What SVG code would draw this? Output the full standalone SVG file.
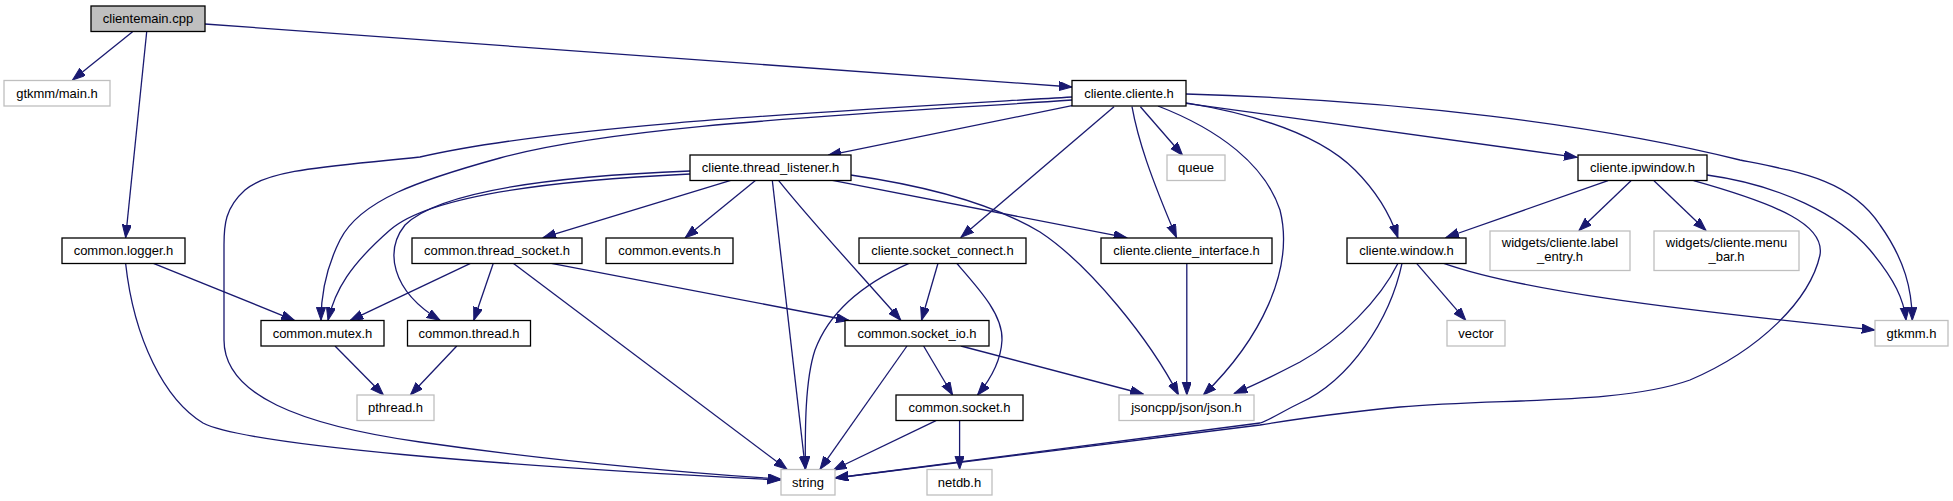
<svg xmlns="http://www.w3.org/2000/svg" width="1953" height="501" viewBox="0 0 1953 501">
<style>
.n rect{fill:#fff;stroke:#000;stroke-width:1.3}
.g rect{fill:#fff;stroke:#bfbfbf;stroke-width:1.3}
.root rect{fill:#bfbfbf;stroke:#000;stroke-width:1.3}
text{font-family:"Liberation Sans",Arial,sans-serif;font-size:13px;fill:#000;text-anchor:middle}
#edges path{fill:none;stroke:#191970;stroke-width:1.3;marker-end:url(#ah)}
</style>
<defs>
<marker id="ah" markerUnits="userSpaceOnUse" markerWidth="14" markerHeight="10" refX="13" refY="4.6" orient="auto">
<path d="M0,0 L13,4.6 L0,9.2 Z" fill="#191970" stroke="#191970" stroke-width="1"/>
</marker>
</defs>
<rect width="1953" height="501" fill="#fff"/>
<g id="edges">
<path d="M132.6,31.7 L72.5,80"/>
<path d="M146.7,31.7 L125.6,237.7"/>
<path d="M204.8,24 L1072,87"/>
<path d="M1072,97 C820,112 560,125 420,157 C340,166 270,168 245,190 C225,208 224,225 224,245 L224,340 C224,395 300,425 420,442 C560,462 700,474 780.6,479"/>
<path d="M125.6,263.3 C134,340 165,400 203,423 C245,445 500,466 780.6,480"/>
<path d="M1072,100 C850,115 620,125 500,158 C420,180 360,200 340,240 C325,270 321,300 321,320.3"/>
<path d="M690,171 C560,176 440,190 405,225 C385,250 390,290 440,320.3"/>
<path d="M690,174 C560,180 430,195 390,230 C350,265 335,290 328,320.3"/>
<path d="M1072,105.7 L828.2,155.3"/>
<path d="M1114,106.7 L961,237.3"/>
<path d="M1140.4,106.7 L1182.6,155.3"/>
<path d="M1132,106.7 C1138,140 1150,175 1176.4,237.3"/>
<path d="M1158,106 C1220,130 1265,165 1280,210 C1295,270 1260,340 1203.4,395"/>
<path d="M1184.7,102.7 C1260,115 1320,135 1355,170 C1380,195 1392,220 1397.9,237.7"/>
<path d="M1186,103.3 L1577,157.3"/>
<path d="M1186,94 C1400,100 1600,125 1740,160 C1800,172 1850,180 1880,225 C1905,260 1912,290 1912.3,320.3"/>
<path d="M1707,175 C1780,185 1840,215 1870,250 C1895,280 1904,300 1906,320.3"/>
<path d="M1693.6,180.7 C1780,205 1825,225 1820,255 C1810,300 1760,350 1690,380 C1620,405 1500,398 1400,407 C1330,414 1290,420 1260,425 L835.3,478"/>
<path d="M1398,263.3 C1380,300 1340,340 1300,362 C1275,375 1255,385 1234.4,393.3"/>
<path d="M1402,263.3 C1390,320 1350,380 1300,403 C1285,410 1270,420 1260,423 L835.3,478"/>
<path d="M1416.6,263.3 L1465.8,320.3"/>
<path d="M1443.7,263.3 C1520,290 1660,308 1874.8,330"/>
<path d="M1608,180.7 L1446,237.5"/>
<path d="M1631,180.7 L1579,230.5"/>
<path d="M1654,180.7 L1706,230.5"/>
<path d="M1186.8,263.3 L1186.8,395"/>
<path d="M730.8,180.3 L543,237.7"/>
<path d="M755.7,180.3 L685.2,237.7"/>
<path d="M772.3,180.3 L805.4,469.3"/>
<path d="M778.5,180.3 C810,220 870,285 900.8,320.3"/>
<path d="M832.4,180.3 L1126.7,237.7"/>
<path d="M850.6,175 C920,185 990,202 1040,232 C1090,265 1150,340 1178.5,395"/>
<path d="M470.5,263.3 L350.3,320.3"/>
<path d="M493.3,263.3 L473.8,320.3"/>
<path d="M513.2,263.3 L787,469.3"/>
<path d="M551.3,263.3 L849,320.5"/>
<path d="M153.4,263.3 L294.3,320.3"/>
<path d="M335,346 L383.4,395"/>
<path d="M456.8,346 L410.4,395"/>
<path d="M909,263.3 C860,285 828,315 815,350 C805,380 805,430 805.4,469.3"/>
<path d="M938,263.3 L921.5,320.3"/>
<path d="M956.7,263.3 C980,290 1003,315 1002,340 C1001,362 990,380 977.5,395"/>
<path d="M907,346 L820,469.3"/>
<path d="M923.6,346 L952.6,395"/>
<path d="M960.9,346 L1143.3,394"/>
<path d="M936,420.7 L833.3,470"/>
<path d="M959.6,420.7 L959.6,469.3"/>
</g>
<g id="n_clientemain" class="root"><rect x="91" y="6" width="114" height="25.5"/><text x="148" y="23.2">clientemain.cpp</text></g>
<g id="n_gtkmm_main" class="g"><rect x="4" y="80.5" width="106" height="25.5"/><text x="57" y="97.7">gtkmm/main.h</text></g>
<g id="n_cliente_cliente" class="n"><rect x="1072" y="80.5" width="114" height="25.5"/><text x="1129" y="97.7">cliente.cliente.h</text></g>
<g id="n_thread_listener" class="n"><rect x="690" y="155" width="161" height="25.5"/><text x="770.5" y="172.2">cliente.thread_listener.h</text></g>
<g id="n_queue" class="g"><rect x="1167" y="155" width="58" height="25.5"/><text x="1196" y="172.2">queue</text></g>
<g id="n_ipwindow" class="n"><rect x="1578" y="155" width="129" height="25.5"/><text x="1642.5" y="172.2">cliente.ipwindow.h</text></g>
<g id="n_logger" class="n"><rect x="62" y="238" width="123" height="25.5"/><text x="123.5" y="255.2">common.logger.h</text></g>
<g id="n_thread_socket" class="n"><rect x="412" y="238" width="170" height="25.5"/><text x="497" y="255.2">common.thread_socket.h</text></g>
<g id="n_events" class="n"><rect x="606" y="238" width="127" height="25.5"/><text x="669.5" y="255.2">common.events.h</text></g>
<g id="n_socket_connect" class="n"><rect x="859" y="238" width="167" height="25.5"/><text x="942.5" y="255.2">cliente.socket_connect.h</text></g>
<g id="n_cliente_interface" class="n"><rect x="1101" y="238" width="171" height="25.5"/><text x="1186.5" y="255.2">cliente.cliente_interface.h</text></g>
<g id="n_window" class="n"><rect x="1347" y="238" width="119" height="25.5"/><text x="1406.5" y="255.2">cliente.window.h</text></g>
<g id="n_label_entry" class="g"><rect x="1490" y="231" width="140" height="39.5"/><text x="1560" y="247.2">widgets/cliente.label</text><text x="1560" y="261.2">_entry.h</text></g>
<g id="n_menu_bar" class="g"><rect x="1654" y="231" width="145" height="39.5"/><text x="1726.5" y="247.2">widgets/cliente.menu</text><text x="1726.5" y="261.2">_bar.h</text></g>
<g id="n_mutex" class="n"><rect x="261" y="320.5" width="123" height="25.5"/><text x="322.5" y="337.7">common.mutex.h</text></g>
<g id="n_thread" class="n"><rect x="407.5" y="320.5" width="123" height="25.5"/><text x="469" y="337.7">common.thread.h</text></g>
<g id="n_socket_io" class="n"><rect x="845" y="320.5" width="144" height="25.5"/><text x="917" y="337.7">common.socket_io.h</text></g>
<g id="n_vector" class="g"><rect x="1447" y="320.5" width="58" height="25.5"/><text x="1476" y="337.7">vector</text></g>
<g id="n_gtkmm" class="g"><rect x="1875" y="320.5" width="73" height="25.5"/><text x="1911.5" y="337.7">gtkmm.h</text></g>
<g id="n_pthread" class="g"><rect x="357" y="395" width="77" height="25.5"/><text x="395.5" y="412.2">pthread.h</text></g>
<g id="n_socket" class="n"><rect x="896" y="395" width="127" height="25.5"/><text x="959.5" y="412.2">common.socket.h</text></g>
<g id="n_json" class="g"><rect x="1119" y="395" width="135" height="25.5"/><text x="1186.5" y="412.2">jsoncpp/json/json.h</text></g>
<g id="n_string" class="g"><rect x="781" y="469.5" width="54" height="25.5"/><text x="808" y="486.7">string</text></g>
<g id="n_netdb" class="g"><rect x="927" y="469.5" width="65" height="25.5"/><text x="959.5" y="486.7">netdb.h</text></g>
</svg>
